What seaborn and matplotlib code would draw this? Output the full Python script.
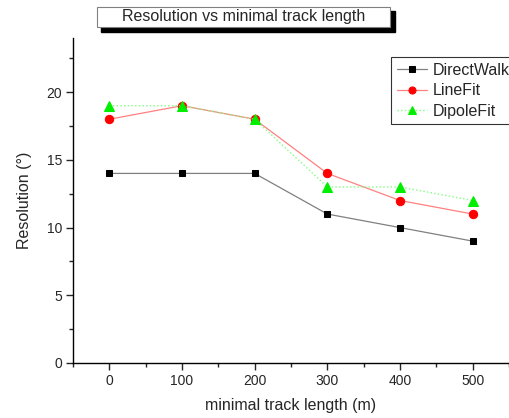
import matplotlib
matplotlib.use("Agg")
import matplotlib.pyplot as plt
import seaborn as sns
import pandas as pd
from matplotlib.patches import Rectangle
from matplotlib.ticker import MultipleLocator

sns.set_style("ticks")
plt.rcParams['font.family'] = ['Liberation Sans', 'DejaVu Sans']

track_length = [0, 100, 200, 300, 400, 500]
direct_walk = [14, 14, 14, 11, 10, 9]
line_fit = [18, 19, 18, 14, 12, 11]
dipole_fit = [19, 19, 18, 13, 13, 12]

W, H = 509, 418
fig = plt.figure(figsize=(W / 100, H / 100), dpi=100)
ax = fig.add_axes([73 / W, 1 - 363 / H, 1 - 73 / W, (363 - 38) / H])

sns.lineplot(x=track_length, y=direct_walk, ax=ax, color='#808080', lw=0.9,
             marker='s', markersize=5, markerfacecolor='black', markeredgecolor='black',
             label='DirectWalk')
sns.lineplot(x=track_length, y=line_fit, ax=ax, color='#ff8080', lw=0.9,
             marker='o', markersize=6, markerfacecolor='red', markeredgecolor='red',
             label='LineFit')
sns.lineplot(x=track_length, y=dipole_fit, ax=ax, color='#80ff80', lw=1.0, linestyle=':',
             marker='^', markersize=7, markerfacecolor='#00ee00', markeredgecolor='#00ee00',
             label='DipoleFit')

ax.set_xlim(-50, 550)
ax.set_ylim(0, 24)
ax.xaxis.set_major_locator(MultipleLocator(100))
ax.xaxis.set_minor_locator(MultipleLocator(50))
ax.yaxis.set_major_locator(MultipleLocator(5))
ax.yaxis.set_minor_locator(MultipleLocator(2.5))
ax.tick_params(which='major', direction='out', length=5, width=1, labelsize=10, pad=3)
ax.tick_params(which='minor', direction='out', length=3, width=1)
for s in ['top', 'right']:
    ax.spines[s].set_visible(False)
for s in ['left', 'bottom']:
    ax.spines[s].set_linewidth(1)
    ax.spines[s].set_color('black')

ax.set_xlabel('minimal track length (m)', fontsize=11.5, labelpad=7)
ax.set_ylabel('Resolution (°)', fontsize=11.5, labelpad=10)

leg = ax.legend(loc='upper left', bbox_to_anchor=(391 / W, 1 - 57 / H),
                bbox_transform=fig.transFigure, frameon=True, fancybox=False,
                edgecolor='black', fontsize=11.5, handlelength=1.9, borderpad=0.35,
                labelspacing=0.35, handletextpad=0.35, borderaxespad=0, markerscale=0.85)
leg.get_frame().set_linewidth(0.8)

# title box with shadow
fig.patches.append(Rectangle((101 / W, 1 - 32 / H), (395 - 101) / W, (32 - 11) / H,
                             transform=fig.transFigure, facecolor='black', edgecolor='black', zorder=1))
fig.patches.append(Rectangle((97 / W, 1 - 27 / H), (390 - 97) / W, (27 - 7) / H,
                             transform=fig.transFigure, facecolor='white', edgecolor='#808080',
                             lw=0.8, zorder=2))
fig.text((97 + 390) / 2 / W, 1 - 17 / H, 'Resolution vs minimal track length',
         ha='center', va='center', fontsize=11.5, zorder=3)

fig.savefig('out.png', dpi=100)
